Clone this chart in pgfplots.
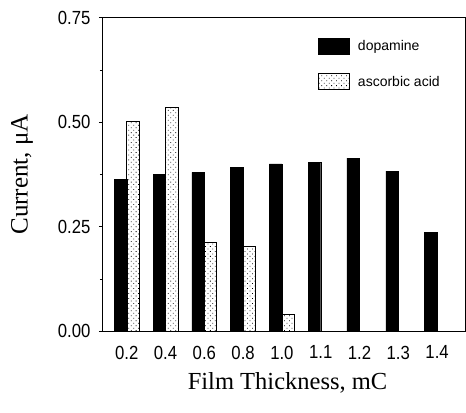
\documentclass[border=0pt]{standalone}
\usepackage{pgfplots}
\pgfplotsset{compat=1.18}
\usepackage{fontspec}
\setmainfont{Liberation Serif}
\newfontfamily\arial{Liberation Sans}
\newfontfamily\arialn[FakeStretch=0.88]{Liberation Sans}
\usetikzlibrary{patterns.meta}
\begin{document}
\begin{tikzpicture}
\useasboundingbox (-102pt,-81pt) rectangle (364pt,331.3pt);
\begin{axis}[
  at={(0,0)}, anchor=south west,
  scale only axis,
  width=363pt, height=313.7pt,
  xmin=-0.638, xmax=8.72,
  ymin=0, ymax=0.75,
  xtick={0,...,8},
  xticklabels={0.2,0.4,0.6,0.8,1.0,1.1,1.2,1.3,1.4},
  ytick={0,0.25,0.5,0.75},
  yticklabels={0.00,0.25,0.50,0.75},
  minor ytick={0.125,0.375,0.625},
  /pgf/number format/assume math mode=true,
  x tick style={draw=none},
  y tick style={black, line width=0.6pt},
  tick align=outside,
  major tick length=3pt, minor tick length=2pt,
  ytick pos=left,
  xticklabel style={font=\arialn\fontsize{19}{19}\selectfont, yshift=-8pt},
  yticklabel style={font=\arialn\fontsize{19}{19}\selectfont, xshift=-5pt},
  axis line style={black, line width=0.8pt},
  bar width=0.323,
  xlabel={Film Thickness, mC},
  ylabel={Current, μA},
  xlabel style={font=\fontsize{24.5}{24.5}\selectfont, at={(axis description cs:0.511,-0.166)}, anchor=center},
  ylabel style={font=\fontsize{25}{25}\selectfont, at={(axis description cs:-0.22,0.5)}, anchor=center},
  legend style={draw=none, fill=none, at={(axis description cs:0.595,0.936)}, anchor=north west,
    font=\arial\fontsize{14}{14}\selectfont, row sep=19pt, column sep=6pt, inner sep=0pt, legend cell align=left},
  legend image code/.code={\draw[#1] (0pt,-8pt) rectangle (31pt,8pt);},
]
\addplot[ybar, bar shift=-0.1615, fill=black, draw=black] coordinates {
 (0,0.363) (1,0.376) (2,0.380) (3,0.392) (4,0.400) (5,0.404) (6,0.414) (7,0.383) (8,0.237)};
\addlegendentry{dopamine}
\addplot[ybar, bar shift=0.1615, draw=black, line width=0.8pt, pattern={Dots[distance=3.5pt, radius=0.55pt, angle=45]}] coordinates {
 (0,0.502) (1,0.536) (2,0.212) (3,0.204) (4,0.041)};
\addlegendentry{ascorbic acid}
\end{axis}
\end{tikzpicture}
\end{document}
